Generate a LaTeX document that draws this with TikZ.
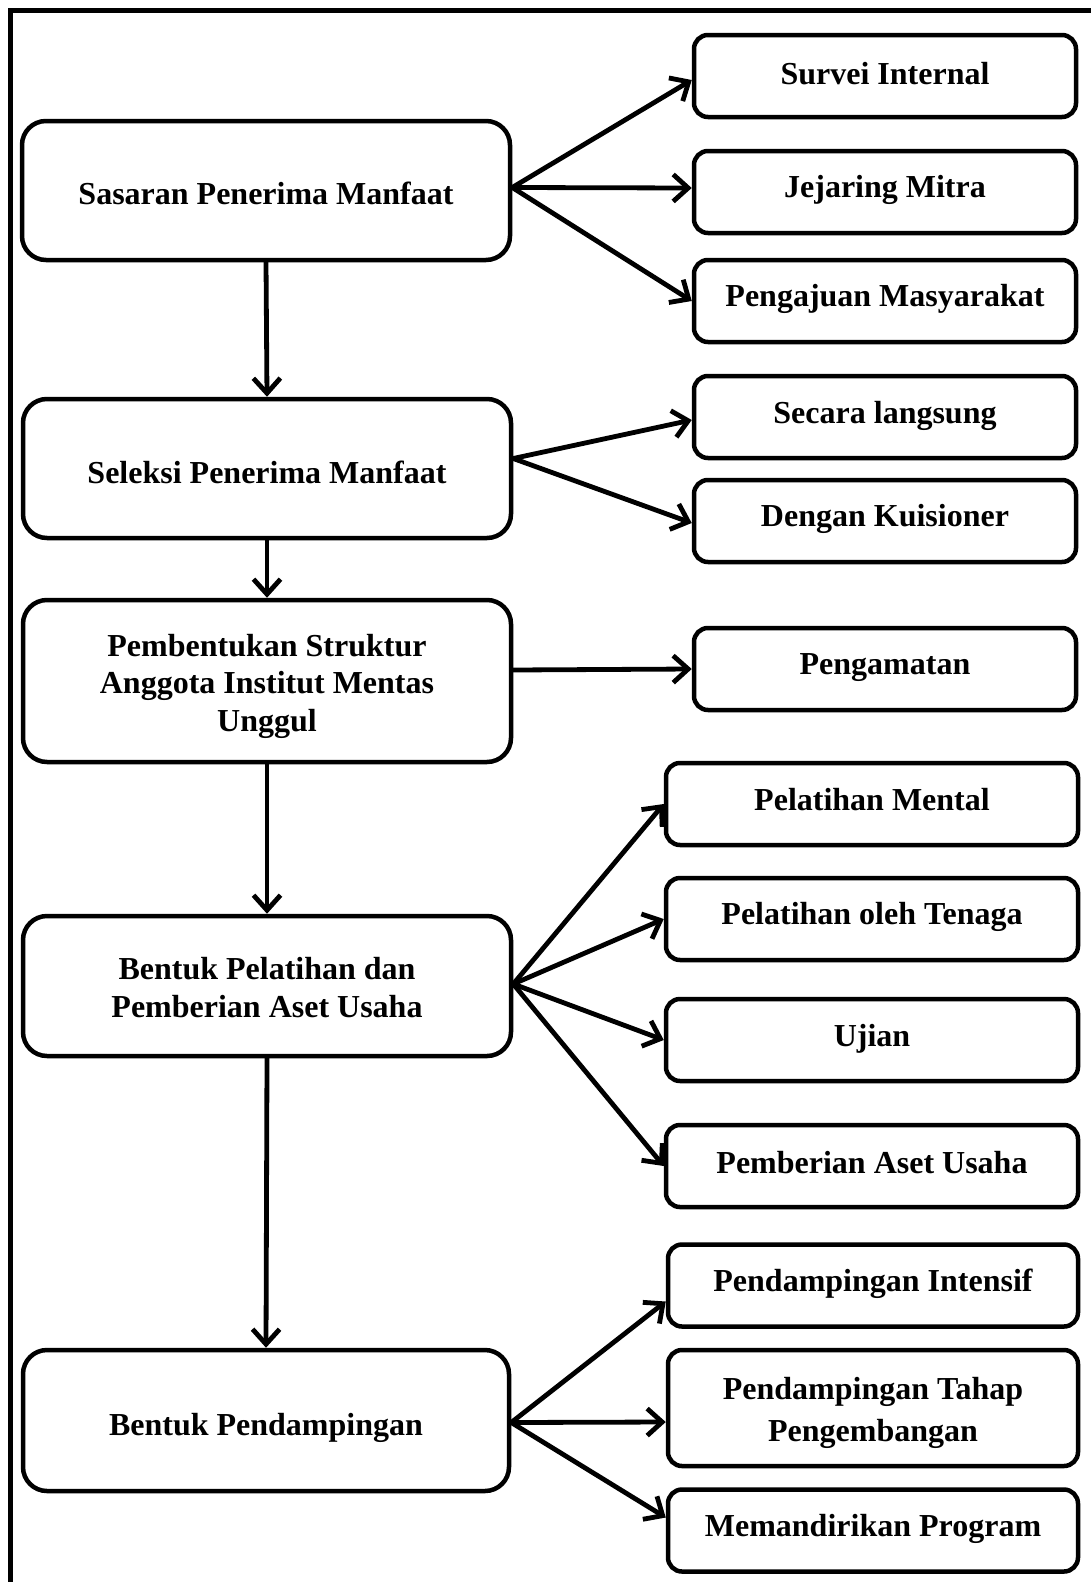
\documentclass[tikz,border=0pt]{standalone}
\usepackage{fontspec}
\setmainfont{Liberation Serif}
\usetikzlibrary{arrows.meta}
\newcommand\upt[2]{\raisebox{#1}[\height][\depth]{\parbox{470pt}{\centering #2}}}
\newcommand\upr[2]{\raisebox{#1}[\height][\depth]{\parbox{360pt}{\centering #2}}}
\tikzset{
  lbox/.style={draw, line width=4.5pt, rounded corners=24pt, minimum width=488pt,
    align=center, inner sep=0pt, font=\fontsize{32}{37.5}\selectfont\bfseries},
  rbox/.style={draw, line width=4.5pt, rounded corners=14pt, minimum height=82pt,
    align=center, inner sep=0pt, font=\fontsize{32}{42}\selectfont\bfseries},
  conn/.style={line width=4.8pt, line cap=round, line join=round,
    -{Straight Barb[length=15pt, width=27pt, line width=4.8pt]}},
}
\begin{document}
\begin{tikzpicture}[x=1pt,y=-1pt]
\useasboundingbox (0,0) rectangle (1091,1582);
\fill[white] (0,0) rectangle (1091,1582);
\draw[line width=5pt] (10,1590) -- (10,10) -- (1095,10);

% left column
\node[lbox, minimum height=139pt] (B1) at (266,190.5) {\upt{-3pt}{Sasaran Penerima Manfaat}};
\node[lbox, minimum height=139pt] (B2) at (267,468.5) {\upt{-4pt}{Seleksi Penerima Manfaat}};
\node[lbox, minimum height=162pt] (B3) at (267,681) {\upt{-5pt}{Pembentukan Struktur\\Anggota Institut Mentas\\Unggul}};
\node[lbox, minimum height=140pt] (B4) at (267,986) {\upt{-1.5pt}{Bentuk Pelatihan dan\\Pemberian Aset Usaha}};
\node[lbox, minimum height=141pt, minimum width=486pt] (B5) at (266,1420.5) {\upt{-7pt}{Bentuk Pendampingan}};

% right column
\node[rbox, minimum width=382pt] (R1) at (885,76) {\upr{2pt}{Survei Internal}};
\node[rbox, minimum width=382pt] (R2) at (885,192) {\upr{2pt}{Jejaring Mitra}};
\node[rbox, minimum width=382pt] (R3) at (885,301) {\upr{2pt}{Pengajuan Masyarakat}};
\node[rbox, minimum width=382pt] (R4) at (885,417) {\upr{1.5pt}{Secara langsung}};
\node[rbox, minimum width=382pt] (R5) at (885,521) {\upr{2pt}{Dengan Kuisioner}};
\node[rbox, minimum width=382pt] (R6) at (885,669) {\upr{1.5pt}{Pengamatan}};
\node[rbox, minimum width=412pt] (R7) at (872,804) {\upr{4pt}{Pelatihan Mental}};
\node[rbox, minimum width=412pt] (R8) at (872,919) {\upr{2pt}{Pelatihan oleh Tenaga}};
\node[rbox, minimum width=412pt] (R9) at (872,1040) {\upr{1.5pt}{Ujian}};
\node[rbox, minimum width=412pt] (R10) at (872,1166) {\upr{3.5pt}{Pemberian Aset Usaha}};
\node[rbox, minimum width=410pt] (R11) at (873,1285.5) {\upr{2pt}{Pendampingan Intensif}};
\node[rbox, minimum width=410pt, minimum height=116pt] (R12) at (873,1408) {\upr{-5pt}{Pendampingan Tahap\\Pengembangan}};
\node[rbox, minimum width=410pt] (R13) at (873,1530.5) {\upr{2pt}{Memandirikan Program}};

% vertical connectors
\draw[conn] (B1.south) -- (B2.north);
\draw[conn] (B2.south) -- (B3.north);
\draw[conn] (B3.south) -- (B4.north);
\draw[conn] (B4.south) -- (B5.north);

% branch connectors
\coordinate (o1) at ([yshift=3pt]B1.east);
\draw[conn] (o1) -- ([yshift=-4pt]R1.west);
\draw[conn] (o1) -- ([yshift=4pt]R2.west);
\draw[conn] (o1) -- (R3.west);

\coordinate (o2) at ([yshift=10pt]B2.east);
\draw[conn] (o2) -- ([yshift=-3pt]R4.west);
\draw[conn] (o2) -- ([yshift=-2pt]R5.west);

\coordinate (o3) at ([yshift=11pt]B3.east);
\draw[conn] (o3) -- (R6.west);

\coordinate (o4) at ([yshift=2pt]B4.east);
\draw[conn] (o4) -- (R7.west);
\draw[conn] (o4) -- (R8.west);
\draw[conn] (o4) -- (R9.west);
\draw[conn] (o4) -- (R10.west);

\coordinate (o5) at ([yshift=-2pt]B5.east);
\draw[conn] (o5) -- ([yshift=-16pt]R11.west);
\draw[conn] (o5) -- ([yshift=-14pt]R12.west);
\draw[conn] (o5) -- ([yshift=13pt]R13.west);
\end{tikzpicture}
\end{document}
